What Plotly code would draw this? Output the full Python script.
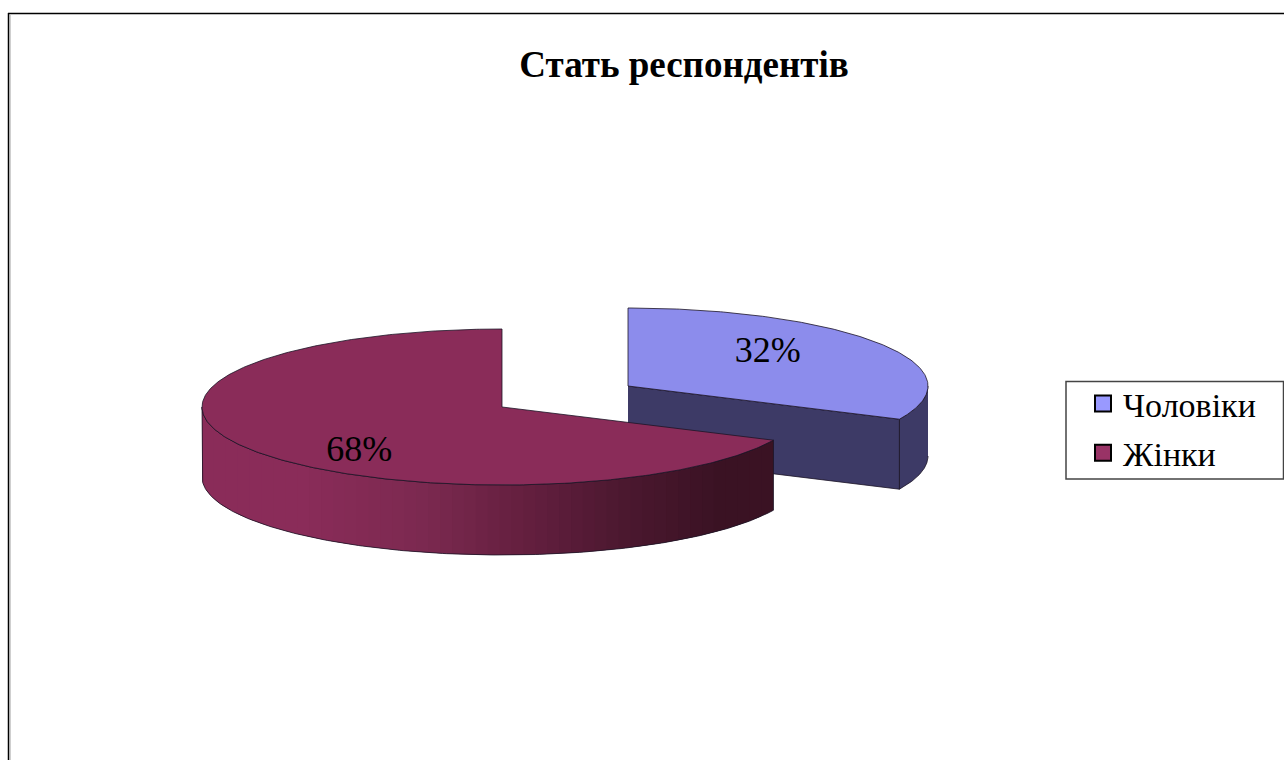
import numpy as np
import plotly.graph_objects as go

# ---- data ----
categories = ["Чоловіки", "Жінки"]
shares = [32, 68]
title_text = "Стать респондентів"

# ---- styles ----
top_colors = ["#8C8CEC", "#8A2C59"]
side_blue = "#3D3A66"
legend_colors = ["#9999FF", "#993366"]
outline = "#1C1426"
W, H = 1284, 760
RX, RY, DEPTH = 300, 78, 70
centers = [(628, 386), (502, 407)]
label_shift = [-10, 22]
label_dx = [-2, -1]
SERIF = "Liberation Serif, Times New Roman, serif"

# slice angles, clockwise from 12 o'clock
fractions = np.array(shares) / sum(shares)
edges = np.concatenate([[0], np.cumsum(fractions)]) * 2 * np.pi


def arc(c, a0, a1, n=200, dy=0):
    t = np.linspace(a0, a1, n)
    return c[0] + RX * np.sin(t), c[1] - RY * np.cos(t) + dy


fig = go.Figure()


def poly(x, y, fill, line=None, width=0.8):
    fig.add_trace(go.Scatter(
        x=list(x), y=list(y), mode="lines", fill="toself", fillcolor=fill,
        line=dict(color=line or fill, width=width),
        showlegend=False, hoverinfo="skip"))


# ---- men slice: side walls then top ----
c = centers[0]
a0, a1 = edges[0], edges[1]
# front cut face (centre to slice end)
ex, ey = arc(c, a1, a1, 1)
poly([c[0], ex[0], ex[0], c[0]], [c[1], ey[0], ey[0] + DEPTH, c[1] + DEPTH], side_blue, outline)
# outer wall, visible from 3 o'clock to the slice end
ax, ay = arc(c, np.pi / 2, a1)
poly(np.r_[ax, ax[::-1]], np.r_[ay, ay[::-1] + DEPTH], side_blue, outline)
# top
tx, ty = arc(c, a0, a1)
poly(np.r_[c[0], tx, c[0]], np.r_[c[1], ty, c[1]], top_colors[0], outline)

# ---- women slice: shaded outer wall then top ----
c = centers[1]
a0, a1 = edges[1], edges[2]
wall_start, wall_end = a0, 3 * np.pi / 2
# bands of equal on-screen width, painted right to left, each overlapping the next
band_x = np.linspace(c[0] + RX * np.sin(wall_start), c[0] - RX, 49)
steps = np.pi - np.arcsin(np.clip((band_x - c[0]) / RX, -1, 1))
steps[0], steps[-1] = wall_start, wall_end
stop_x = [300, 420, 520, 620, 720]
stop_rgb = np.array([[0x8A, 0x2C, 0x59], [0x7C, 0x29, 0x50], [0x65, 0x20, 0x40],
                     [0x4C, 0x18, 0x30], [0x3A, 0x12, 0x23]])
for k in range(len(steps) - 1):
    s0, s1 = steps[k], steps[min(k + 2, len(steps) - 1)]
    sx, sy = arc(c, s0, s1, 10)
    mid = (band_x[k] + band_x[k + 1]) / 2
    rgb = [int(round(np.interp(mid, stop_x, stop_rgb[:, i]))) for i in range(3)]
    col = f"rgb({rgb[0]},{rgb[1]},{rgb[2]})"
    poly(np.r_[sx, sx[::-1]], np.r_[sy, sy[::-1] + DEPTH], col, col, 0)
# wall outline
ox, oy = arc(c, wall_start, wall_end)
fig.add_trace(go.Scatter(
    x=list(np.r_[ox, ox[::-1], ox[0]]), y=list(np.r_[oy, oy[::-1] + DEPTH, oy[0]]),
    mode="lines", line=dict(color=outline, width=0.8), showlegend=False, hoverinfo="skip"))
# top
tx, ty = arc(c, a0, a1, 400)
poly(np.r_[c[0], tx, c[0]], np.r_[c[1], ty, c[1]], top_colors[1], outline)

# ---- percent labels ----
for i, share in enumerate(shares):
    mid = (edges[i] + edges[i + 1]) / 2
    fig.add_trace(go.Scatter(
        x=[centers[i][0] + 0.56 * RX * np.sin(mid) + label_dx[i]],
        y=[centers[i][1] - 0.56 * RY * np.cos(mid) + label_shift[i]],
        mode="text", text=[f"{share}%"], textposition="middle center",
        textfont=dict(family=SERIF, size=36, color="#000000"),
        showlegend=False, hoverinfo="skip"))

# ---- legend entries ----
for i, name in enumerate(categories):
    fig.add_trace(go.Scatter(
        x=[None], y=[None], mode="markers", name=name, legendgroup=name,
        marker=dict(symbol="square", size=16, color=legend_colors[i],
                    line=dict(color="#000000", width=2))))

fig.update_layout(
    width=W, height=H, autosize=False,
    margin=dict(l=0, r=0, t=0, b=0),
    paper_bgcolor="white", plot_bgcolor="white",
    xaxis=dict(range=[0, W], visible=False, fixedrange=True),
    yaxis=dict(range=[H, 0], visible=False, fixedrange=True),
    title=dict(text=f"<b>{title_text}</b>", x=684 / W, xanchor="center",
               y=1 - 64 / H, yanchor="middle",
               font=dict(family=SERIF, size=37, color="#000000")),
    legend=dict(x=1083 / W, xanchor="left", y=1 - 375 / H, yanchor="top",
                bgcolor="rgba(0,0,0,0)", borderwidth=0, tracegroupgap=2,
                font=dict(family=SERIF, size=34, color="#000000"),
                itemsizing="trace", itemclick=False, itemdoubleclick=False),
    shapes=[
        dict(type="line", x0=8.5, x1=8.5, y0=13, y1=H, line=dict(color="#000000", width=1.5)),
        dict(type="line", x0=8, x1=W, y0=13.5, y1=13.5, line=dict(color="#000000", width=1.5)),
        dict(type="line", x0=10, x1=10, y0=15, y1=H, line=dict(color="#A0A0A0", width=1)),
        dict(type="rect", x0=1066, x1=1283.5, y0=381.5, y1=479,
             line=dict(color="#444444", width=1.5), fillcolor="rgba(0,0,0,0)"),
    ],
)

fig.write_html("out.html", config={"displayModeBar": False},
               post_script="document.body.style.margin='0';document.documentElement.style.overflow='hidden';")
